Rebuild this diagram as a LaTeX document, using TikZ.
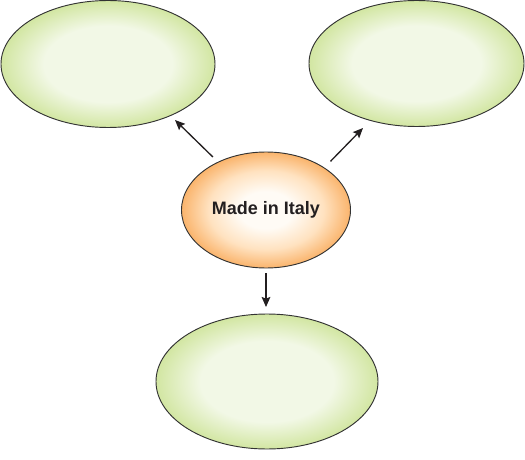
\documentclass[tikz,border=0pt]{standalone}
\usepackage{fontspec}
\setmainfont{Liberation Sans}
\usetikzlibrary{shapes.geometric,arrows.meta}
\definecolor{gin}{HTML}{F2F8E6}
\definecolor{gout}{HTML}{D2E6A2}
\definecolor{oin}{HTML}{FFFBF5}
\definecolor{omid}{HTML}{FFE2C0}
\definecolor{oout}{HTML}{FAB46C}
\definecolor{edge}{HTML}{333333}
\definecolor{ink}{HTML}{231F20}
\pgfdeclareradialshading{greenfill}{\pgfpoint{0bp}{0bp}}{color(0bp)=(gin); color(15bp)=(gin); color(25bp)=(gout); color(50bp)=(gout)}
\pgfdeclareradialshading{orangefill}{\pgfpoint{0bp}{0bp}}{color(0bp)=(oin); color(8bp)=(oin); color(17bp)=(omid); color(25bp)=(oout); color(50bp)=(oout)}
\tikzset{
  px/.style={x=0.75pt,y=-0.75pt},
  bubble/.style={ellipse, draw=edge, line width=0.7pt, inner sep=0pt, shading=greenfill},
  hub/.style={ellipse, draw=edge, line width=0.7pt, inner sep=0pt, shading=orangefill,
    font=\bfseries\fontsize{13.5pt}{16pt}\selectfont, text=ink},
  arr/.style={draw=ink, line width=1pt, -{Stealth[length=7.5pt,width=6.5pt,inset=1.2pt]}}
}
\begin{document}
\begin{tikzpicture}[px]
\useasboundingbox (0,0) rectangle (525,460);
\node[bubble, minimum width=214*0.75pt, minimum height=127*0.75pt] (tl) at (108,64) {};
\node[bubble, minimum width=215*0.75pt, minimum height=126*0.75pt] (tr) at (416.5,63.5) {};
\node[bubble, minimum width=222*0.75pt, minimum height=135*0.75pt] (bt) at (267,381.5) {};
\node[hub, minimum width=169*0.75pt, minimum height=116*0.75pt] (c) at (266,210) {Made in Italy};
\coordinate (e1) at (175,120);
\coordinate (e2) at (363,128);
\coordinate (e3) at (266,307);
\draw[arr, shorten <=5.25pt] (c.135) -- (e1);
\draw[arr, shorten <=6.5pt] (c.36) -- (e2);
\draw[arr, shorten <=3.75pt] (c.south) -- (e3);
\end{tikzpicture}
\end{document}
